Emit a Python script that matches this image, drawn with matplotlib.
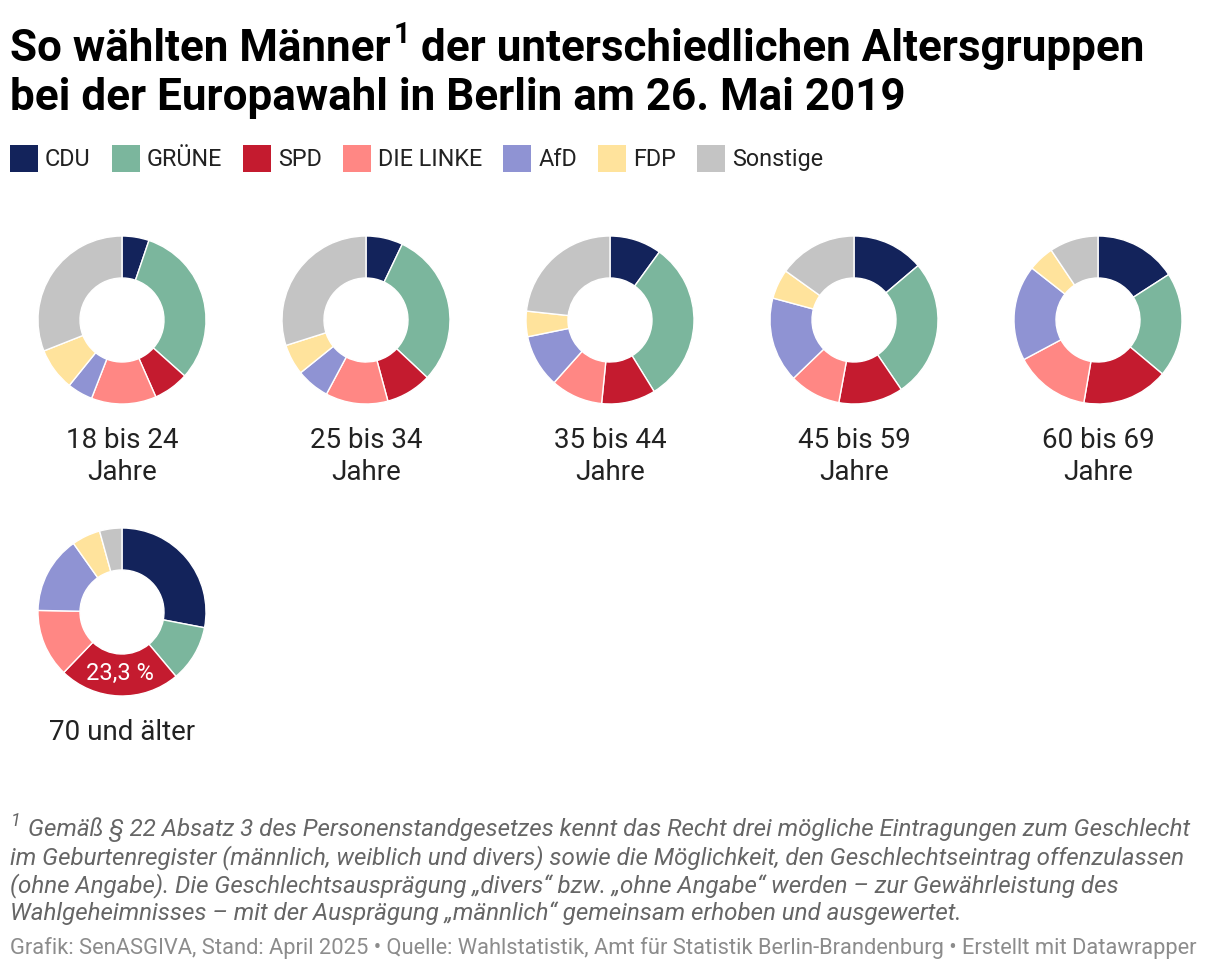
import matplotlib
matplotlib.use("Agg")
import matplotlib.pyplot as plt

# Daten: Stimmenanteile (in %) der Männer nach Altersgruppe
parteien = ["CDU", "GRÜNE", "SPD", "DIE LINKE", "AfD", "FDP", "Sonstige"]
farben = ["#13235b", "#7bb69d", "#c41b2f", "#ff8784", "#8f93d3", "#ffe39c", "#c4c4c4"]

gruppen = ["18 bis 24\nJahre", "25 bis 34\nJahre", "35 bis 44\nJahre",
           "45 bis 59\nJahre", "60 bis 69\nJahre", "70 und älter"]

anteile_18_24 = [5.2, 31.4, 6.8, 12.5, 4.9, 8.2, 31.0]
anteile_25_34 = [7.1, 29.9, 8.8, 12.0, 6.4, 5.9, 29.9]
anteile_35_44 = [10.0, 31.2, 10.4, 10.0, 10.2, 4.9, 23.3]
anteile_45_59 = [13.8, 26.7, 12.4, 9.9, 16.4, 5.7, 15.1]
anteile_60_69 = [15.9, 20.2, 16.6, 14.5, 18.4, 5.0, 9.4]
anteile_70 = [28.0, 10.9, 23.3, 13.1, 14.9, 5.5, 4.3]

anteile = [anteile_18_24, anteile_25_34, anteile_35_44,
           anteile_45_59, anteile_60_69, anteile_70]

titel_1 = "So wählten Männer"
titel_2 = " der unterschiedlichen Altersgruppen"
titel_3 = "bei der Europawahl in Berlin am 26. Mai 2019"

fussnote = [
    "Gemäß § 22 Absatz 3 des Personenstandgesetzes kennt das Recht drei mögliche Eintragungen zum Geschlecht",
    "im Geburtenregister (männlich, weiblich und divers) sowie die Möglichkeit, den Geschlechtseintrag offenzulassen",
    "(ohne Angabe). Die Geschlechtsausprägung „divers“ bzw. „ohne Angabe“ werden – zur Gewährleistung des",
    "Wahlgeheimnisses – mit der Ausprägung „männlich“ gemeinsam erhoben und ausgewertet.",
]
quelle = ("Grafik: SenASGIVA, Stand: April 2025 • Quelle: Wahlstatistik, Amt für Statistik "
          "Berlin-Brandenburg • Erstellt mit Datawrapper")

W, H = 1220, 974
plt.rcParams["font.family"] = ["Roboto", "DejaVu Sans"]

fig = plt.figure(figsize=(W / 100, H / 100), dpi=100)
fig.patch.set_facecolor("white")
renderer = fig.canvas.get_renderer()


def px(x, y):
    return x / W, 1 - y / H


def text_width(t):
    bb = t.get_window_extent(renderer=renderer)
    return bb.width


# Titel mit hochgestellter 1
t1 = fig.text(*px(10, 61), titel_1, fontsize=31.7, fontweight="bold", va="baseline", color="#000000")
x = 10 + text_width(t1) + 3
t_sup = fig.text(*px(x, 43), "1", fontsize=21, fontweight="bold", va="baseline", color="#000000")
x += text_width(t_sup)
fig.text(*px(x, 61), titel_2, fontsize=31.7, fontweight="bold", va="baseline", color="#000000")
fig.text(*px(10, 110), titel_3, fontsize=31.7, fontweight="bold", va="baseline", color="#000000")

# Legende
x = 10
for name, farbe in zip(parteien, farben):
    fig.patches.append(plt.Rectangle(px(x, 172), 28 / W, 27 / H, transform=fig.transFigure,
                                     facecolor=farbe, edgecolor="none"))
    t = fig.text(*px(x + 35, 166), name, fontsize=16.8, va="baseline", color="#222222")
    x += 35 + text_width(t) + 21

# Donuts
zentren = [(122, 320), (366, 320), (610, 320), (854, 320), (1098, 320), (122, 612)]
r_px = 84
box = 100
for werte, (cx, cy), label in zip(anteile, zentren, gruppen):
    ax = fig.add_axes([(cx - box) / W, 1 - (cy + box) / H, 2 * box / W, 2 * box / H])
    wedges, _ = ax.pie(werte, colors=farben, startangle=90, counterclock=False,
                       radius=1.0, wedgeprops=dict(width=0.5, edgecolor="white", linewidth=1.0))
    lim = box / r_px
    ax.set_xlim(-lim, lim)
    ax.set_ylim(-lim, lim)
    ax.set_aspect("equal")
    ax.axis("off")
    if label == "70 und älter":
        fig.text(*px(cx, 732), label, fontsize=20, ha="center", va="center", color="#222222")
        # Wert im SPD-Segment
        ax.text(-0.02, -0.73, "23,3 %", fontsize=17, color="white", ha="center", va="center")
    else:
        zeilen = label.split("\n")
        fig.text(*px(cx, 441), zeilen[0], fontsize=20, ha="center", va="center", color="#222222")
        fig.text(*px(cx, 473), zeilen[1], fontsize=20, ha="center", va="center", color="#222222")

# Fußnote
fig.text(*px(11, 826), "1", fontsize=13, style="italic", va="baseline", color="#666666")
for i, zeile in enumerate(fussnote):
    xx = 28 if i == 0 else 10
    fig.text(*px(xx, 836 + i * 28), zeile, fontsize=17.4, style="italic",
             va="baseline", color="#666666")

fig.text(*px(10, 954), quelle, fontsize=15.75, va="baseline", color="#8c8c8c")

fig.savefig("out.png", dpi=100, facecolor="white")
